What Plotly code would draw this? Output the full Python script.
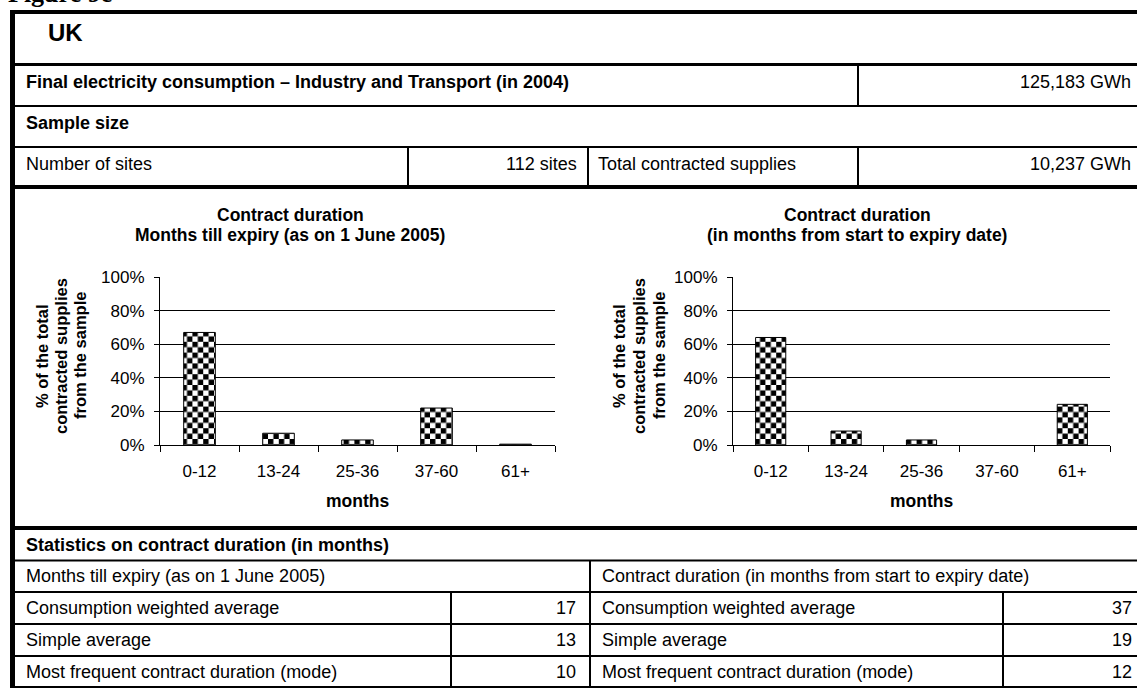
import plotly.graph_objects as go

W, H = 1137, 688

# ---------------- data ----------------
categories = ["0-12", "13-24", "25-36", "37-60", "61+"]
expiry_share = [0.67, 0.07, 0.03, 0.22, 0.005]      # months till expiry (as on 1 June 2005)
duration_share = [0.64, 0.083, 0.03, 0.0, 0.242]    # months from start to expiry date
y_tickvals = [0, 0.2, 0.4, 0.6, 0.8, 1.0]
y_ticktext = ["0%", "20%", "40%", "60%", "80%", "100%"]

country = "UK"
consumption_label = "Final electricity consumption – Industry and Transport (in 2004)"
consumption_value = "125,183 GWh"
sample_label = "Sample size"
sites_label = "Number of sites"
sites_value = "112 sites"
supplies_label = "Total contracted supplies"
supplies_value = "10,237 GWh"
stats_title = "Statistics on contract duration (in months)"
expiry_title = "Months till expiry (as on 1 June 2005)"
duration_title = "Contract duration (in months from start to expiry date)"
stat_labels = ["Consumption weighted average", "Simple average",
               "Most frequent contract duration (mode)"]
expiry_stats = [17, 13, 10]
duration_stats = [37, 19, 12]
chart1_title = ["Contract duration", "Months till expiry (as on 1 June 2005)"]
chart2_title = ["Contract duration", "(in months from start to expiry date)"]
ytitle_lines = ["% of the total", "contracted supplies", "from the sample"]
xtitle = "months"

FONT = "Liberation Sans, Arial, sans-serif"
TS = 18  # table text size


def px(x):
    return x / W


def py(y):
    return 1 - y / H


shapes = []


def line(x0, y0, x1, y1, w=2):
    shapes.append(dict(type="line", xref="paper", yref="paper",
                       x0=px(x0), y0=py(y0), x1=px(x1), y1=py(y1),
                       line=dict(color="black", width=w), layer="above"))


annots = []


def text(x, y, s, size=TS, bold=False, anchor="left", angle=0, family=FONT):
    annots.append(dict(xref="paper", yref="paper", x=px(x), y=py(y),
                       text=("<b>%s</b>" % s) if bold else s,
                       showarrow=False, xanchor=anchor, yanchor="middle",
                       textangle=angle, borderpad=0,
                       font=dict(family=family, size=size, color="black")))


# ---------------- table lines ----------------
line(10, 12, W, 12, 4)          # top border
line(12.5, 10, 12.5, H, 5)      # left border
line(10, 64.5, W, 64.5, 3)
line(12, 106, W, 106, 2)
line(12, 147, W, 147, 2)
line(10, 187, W, 187, 4)
line(858, 65, 858, 106, 2)
line(408, 147, 408, 187, 2)
line(588, 147, 588, 187, 2)
line(858, 147, 858, 187, 2)
line(10, 528, W, 528, 4)
for yy in [560.5, 592, 624, 656, 687]:
    line(12, yy, W, yy, 2)
line(590, 560, 590, H, 2)
line(451, 592, 451, H, 2)
line(1003, 592, 1003, H, 2)

# ---------------- table texts ----------------
text(7, -6, "Figure 9e", size=26, bold=True, family="Liberation Serif, Times New Roman, serif")
text(47, 33, country, size=24, bold=True)
text(25, 82, consumption_label, bold=True)
text(1132, 82, consumption_value, anchor="right")
text(25, 123, sample_label, bold=True)
text(25, 164, sites_label)
text(578, 164, sites_value, anchor="right")
text(597, 164, supplies_label)
text(1132, 164, supplies_value, anchor="right")
text(25, 545, stats_title, bold=True)
text(25, 576, expiry_title)
text(601, 576, duration_title)
for i, lab in enumerate(stat_labels):
    yy = 608 + 32 * i
    text(25, yy, lab)
    text(577, yy, str(expiry_stats[i]), anchor="right")
    text(601, yy, lab)
    text(1133, yy, str(duration_stats[i]), anchor="right")

# ---------------- chart texts ----------------
text(290, 215, chart1_title[0], size=17.5, bold=True, anchor="center")
text(290, 235, chart1_title[1], size=17.5, bold=True, anchor="center")
text(857, 215, chart2_title[0], size=17.5, bold=True, anchor="center")
text(857, 235, chart2_title[1], size=17.5, bold=True, anchor="center")
for k, xx in enumerate([42, 61, 80]):
    text(xx, 356, ytitle_lines[k], size=16.5, bold=True, anchor="center", angle=-90)
for k, xx in enumerate([619, 639, 659]):
    text(xx, 356, ytitle_lines[k], size=16.5, bold=True, anchor="center", angle=-90)
text(357.5, 501, xtitle, size=17.5, bold=True, anchor="center")
text(921.5, 501, xtitle, size=17.5, bold=True, anchor="center")


# ---------------- bars ----------------
def bar_marker(values):
    return dict(color="white",
                line=dict(color="black", width=[1 if v > 0 else 0 for v in values]),
                pattern=dict(shape="x", fgcolor="black", bgcolor="white",
                             size=8, solidity=0.5))


fig = go.Figure()
fig.add_trace(go.Bar(x=categories, y=expiry_share, width=0.4,
                     marker=bar_marker(expiry_share),
                     xaxis="x", yaxis="y", hoverinfo="skip"))
fig.add_trace(go.Bar(x=categories, y=duration_share, width=0.4,
                     marker=bar_marker(duration_share),
                     xaxis="x2", yaxis="y2", hoverinfo="skip"))

xcommon = dict(type="category", showline=True, linecolor="black", linewidth=1,
               ticks="outside", tickson="boundaries", ticklen=6, tickcolor="black",
               showgrid=False, zeroline=False, fixedrange=True, automargin=False,
               tickfont=dict(family=FONT, size=17, color="black"),
               ticklabelstandoff=11)
ycommon = dict(range=[0, 1], tickvals=y_tickvals, ticktext=y_ticktext,
               showgrid=True, gridcolor="black", gridwidth=1,
               showline=True, linecolor="black", linewidth=1,
               ticks="outside", ticklen=5, tickcolor="black",
               zeroline=False, fixedrange=True, automargin=False,
               tickfont=dict(family=FONT, size=17, color="black"),
               ticklabelstandoff=6)

fig.update_layout(
    width=W, height=H, autosize=False,
    margin=dict(l=0, r=0, t=0, b=0, pad=0, autoexpand=False),
    paper_bgcolor="white", plot_bgcolor="white", showlegend=False,
    xaxis=dict(domain=[px(160), px(555)], anchor="y", **xcommon),
    yaxis=dict(domain=[py(445), py(277)], anchor="x", **ycommon),
    xaxis2=dict(domain=[px(733), px(1110)], anchor="y2", **xcommon),
    yaxis2=dict(domain=[py(445), py(277)], anchor="x2", **ycommon),
    shapes=shapes, annotations=annots,
    font=dict(family=FONT, color="black"),
)

post_js = """
document.body.style.margin='0';
document.body.style.overflow='hidden';
var gd = document.getElementById('{plot_id}');
function applyChecker(){
  var ns='http://www.w3.org/2000/svg';
  var svg = gd.querySelector('svg.main-svg');
  if(!document.getElementById('chk')){
    var defs=document.createElementNS(ns,'defs');
    var pat=document.createElementNS(ns,'pattern');
    var c=5.4;
    pat.setAttribute('id','chk');
    pat.setAttribute('patternUnits','userSpaceOnUse');
    pat.setAttribute('width',2*c); pat.setAttribute('height',2*c);
    var rs=[[0,0,2*c,2*c,'#ffffff'],[0,0,c,c,'#000000'],[c,c,c,c,'#000000']];
    rs.forEach(function(r){
      var e=document.createElementNS(ns,'rect');
      e.setAttribute('x',r[0]); e.setAttribute('y',r[1]);
      e.setAttribute('width',r[2]); e.setAttribute('height',r[3]);
      e.setAttribute('fill',r[4]); pat.appendChild(e);
    });
    defs.appendChild(pat); svg.insertBefore(defs, svg.firstChild);
  }
  gd.querySelectorAll('g.trace.bars g.point path').forEach(function(p){
    p.style.fill='url(#chk)';
  });
}
applyChecker();
gd.on('plotly_afterplot', applyChecker);
"""

fig.write_html("out.html", post_script=post_js, config={"displayModeBar": False})
